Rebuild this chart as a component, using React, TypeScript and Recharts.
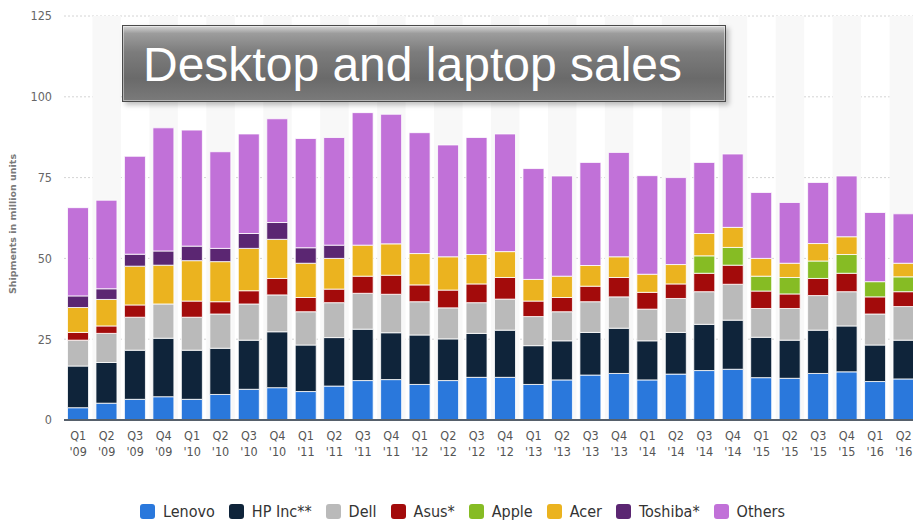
import React from 'react';
import { BarChart, Bar, XAxis, YAxis, CartesianGrid, ReferenceArea, Rectangle } from 'recharts';

const quarters = [
  "Q1 '09", "Q2 '09", "Q3 '09", "Q4 '09",
  "Q1 '10", "Q2 '10", "Q3 '10", "Q4 '10",
  "Q1 '11", "Q2 '11", "Q3 '11", "Q4 '11",
  "Q1 '12", "Q2 '12", "Q3 '12", "Q4 '12",
  "Q1 '13", "Q2 '13", "Q3 '13", "Q4 '13",
  "Q1 '14", "Q2 '14", "Q3 '14", "Q4 '14",
  "Q1 '15", "Q2 '15", "Q3 '15", "Q4 '15",
  "Q1 '16", "Q2 '16",
];

const lenovo = [3.8, 5.2, 6.4, 7.2, 6.4, 7.9, 9.5, 10.0, 8.8, 10.5, 12.2, 12.5, 11.0, 12.2, 13.2, 13.2, 11.0, 12.4, 13.9, 14.4, 12.4, 14.2, 15.3, 15.7, 13.1, 12.9, 14.4, 14.9, 11.9, 12.7];
const hp = [12.9, 12.6, 15.2, 18.1, 15.2, 14.3, 15.2, 17.3, 14.4, 15.0, 15.9, 14.5, 15.3, 12.9, 13.6, 14.6, 12.0, 12.1, 13.2, 14.0, 12.1, 12.9, 14.3, 15.2, 12.5, 11.8, 13.4, 14.2, 11.3, 12.0];
const dell = [8.0, 9.0, 10.2, 10.6, 10.2, 10.6, 11.2, 11.4, 10.3, 10.8, 11.1, 11.9, 10.3, 9.6, 9.5, 9.6, 9.0, 9.0, 9.5, 9.7, 9.8, 10.5, 10.1, 11.1, 8.9, 9.8, 10.7, 10.6, 9.6, 10.4];
const asus = [2.4, 2.3, 3.8, 0, 5.0, 3.8, 4.1, 5.1, 4.4, 4.2, 5.3, 5.9, 5.2, 5.5, 5.8, 6.7, 4.8, 4.4, 4.8, 6.0, 5.2, 4.5, 5.7, 5.9, 5.4, 4.5, 5.3, 5.7, 5.3, 4.6];
const apple = [0, 0, 0, 0, 0, 0, 0, 0, 0, 0, 0, 0, 0, 0, 0, 0, 0, 0, 0, 0, 0, 0, 5.4, 5.5, 4.6, 5.1, 5.4, 5.8, 4.7, 4.6];
const acer = [7.7, 8.2, 12.0, 12.0, 12.5, 12.4, 13.1, 12.1, 10.6, 9.5, 9.6, 9.7, 9.7, 10.3, 9.1, 8.0, 6.7, 6.6, 6.4, 6.4, 5.6, 6.0, 6.9, 6.2, 5.5, 4.4, 5.4, 5.5, 0, 4.2];
const toshiba = [3.6, 3.3, 3.7, 4.4, 4.5, 4.1, 4.6, 5.2, 4.8, 4.1, 0, 0, 0, 0, 0, 0, 0, 0, 0, 0, 0, 0, 0, 0, 0, 0, 0, 0, 0, 0];
const others = [27.3, 27.4, 30.3, 38.1, 35.9, 29.9, 30.8, 32.1, 33.8, 33.3, 41.0, 40.1, 37.4, 34.6, 36.2, 36.4, 34.3, 31.0, 31.9, 32.3, 30.5, 26.9, 22.0, 22.7, 20.4, 18.8, 18.9, 18.8, 21.4, 15.3];

const yTicks = [0, 25, 50, 75, 100, 125];

const series = [
  { key: 'lenovo', name: 'Lenovo', values: lenovo, color: '#2a78dc' },
  { key: 'hp', name: 'HP Inc**', values: hp, color: '#0f243a' },
  { key: 'dell', name: 'Dell', values: dell, color: '#bababa' },
  { key: 'asus', name: 'Asus*', values: asus, color: '#a30b0b' },
  { key: 'apple', name: 'Apple', values: apple, color: '#86bc24' },
  { key: 'acer', name: 'Acer', values: acer, color: '#ebb31f' },
  { key: 'toshiba', name: 'Toshiba*', values: toshiba, color: '#5b2672' },
  { key: 'others', name: 'Others', values: others, color: '#c171d8' },
];

const data = quarters.map((q, i) => {
  const row: any = { quarter: q };
  series.forEach((s) => { row[s.key] = s.values[i]; });
  return row;
});

const tickFont = '"DejaVu Sans Condensed", "DejaVu Sans", sans-serif';

const QuarterTick = (props: any) => {
  const { x, y, payload } = props;
  const [q, yr] = String(payload.value).split(' ');
  return (
    <text x={x} y={y} textAnchor="middle" fill="#555" fontSize={12.5} fontFamily={tickFont}>
      <tspan x={x} dy={12}>{q}</tspan>
      <tspan x={x} dy={16}>{yr}</tspan>
    </text>
  );
};

// skip empty (zero) segments so they don't leave a stray white line
const segment = (props: any) => (props.height > 0 ? <Rectangle {...props} /> : <g />);

export default function App() {
  return (
    <div style={{ position: 'absolute', left: 0, top: 0, width: 913, height: 520, overflow: 'hidden', background: '#fff' }}>
      <BarChart
        width={930}
        height={520}
        data={data}
        margin={{ top: 16, right: 12, bottom: 40, left: 0 }}
        barCategoryGap={3.5}
      >
        {quarters.map((q, i) =>
          i % 2 === 1 ? (
            <ReferenceArea key={q} x1={q} x2={q} y1={0} y2={125} fill="#f8f8f8" fillOpacity={1} stroke="none" ifOverflow="visible" />
          ) : null
        )}
        <CartesianGrid vertical={false} stroke="#d4d4d4" strokeDasharray="2 2" />
        <XAxis
          dataKey="quarter"
          interval={0}
          tick={<QuarterTick />}
          tickLine={false}
          axisLine={{ stroke: '#56606b', strokeWidth: 2 }}
          height={60}
        />
        <YAxis
          domain={[0, 125]}
          ticks={yTicks}
          width={64}
          tickLine={false}
          axisLine={false}
          tickMargin={6}
          tick={{ fill: '#666', fontSize: 12.5, fontFamily: tickFont }}
        />
        {series.map((s) => (
          <Bar
            key={s.key}
            dataKey={s.key}
            name={s.name}
            stackId="a"
            fill={s.color}
            stroke="#ffffff"
            strokeWidth={0.8}
            shape={segment}
            isAnimationActive={false}
          />
        ))}
      </BarChart>

      <div
        style={{
          position: 'absolute',
          left: 12,
          top: 224,
          transform: 'translate(-50%, -50%) rotate(-90deg)',
          whiteSpace: 'nowrap',
          fontFamily: '"DejaVu Sans", sans-serif',
          fontSize: 9.5,
          fontWeight: 'bold',
          color: '#7a7a7a',
        }}
      >
        Shipments in million units
      </div>

      <div
        style={{
          position: 'absolute',
          left: 122,
          top: 25,
          width: 604,
          height: 77,
          boxSizing: 'border-box',
          border: '1px solid #4a4a4a',
          boxShadow: 'inset 0 0 0 1px rgba(255,255,255,0.45), 3px 3px 5px rgba(0,0,0,0.25)',
          background: 'linear-gradient(to bottom, #d6d6d6 0%, #9c9c9c 10%, #7c7c7c 35%, #6a6a6a 70%, #7a7a7a 100%)',
          color: '#fff',
          fontFamily: '"Liberation Sans", Arial, sans-serif',
          fontSize: 48,
          lineHeight: '77px',
          paddingLeft: 20,
          whiteSpace: 'nowrap',
        }}
      >
        Desktop and laptop sales
      </div>

      <div
        style={{
          position: 'absolute',
          left: 6,
          top: 502,
          width: 913,
          display: 'flex',
          justifyContent: 'center',
          alignItems: 'center',
          fontFamily: tickFont,
          fontSize: 16,
          color: '#333',
        }}
      >
        {series.map((s) => (
          <div key={s.key} style={{ display: 'flex', alignItems: 'center', margin: '0 7px' }}>
            <span style={{ width: 15, height: 15, borderRadius: 3, background: s.color, display: 'inline-block', marginRight: 8 }} />
            <span>{s.name}</span>
          </div>
        ))}
      </div>
    </div>
  );
}
